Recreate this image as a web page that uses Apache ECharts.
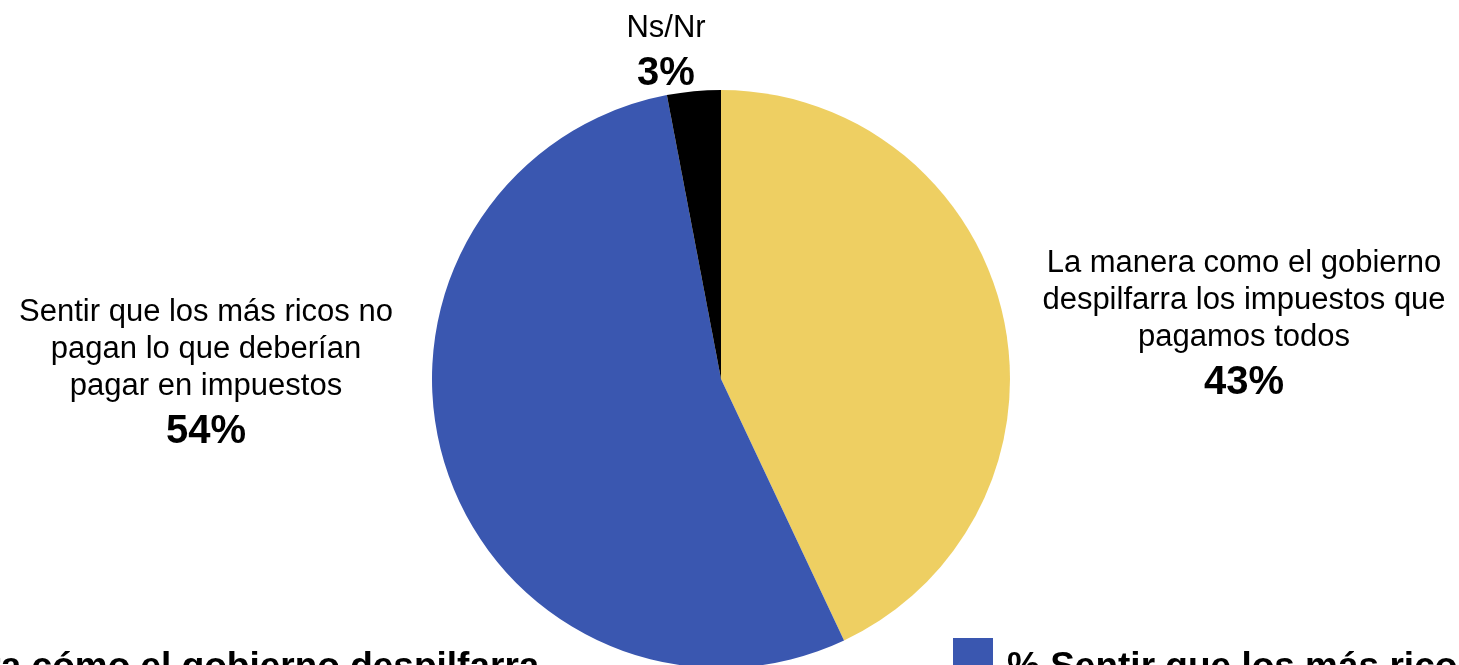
<!DOCTYPE html>
<html>
<head>
<meta charset="utf-8">
<script src="https://cdn.jsdelivr.net/npm/echarts@6/dist/echarts.min.js"></script>
<style>
  html, body { margin: 0; padding: 0; background: #ffffff; }
  #chart { width: 1459px; height: 665px; }
</style>
</head>
<body>
<div id="chart"></div>
<script>
// Survey answers: slice names (as shown next to the pie) and percentages
const categories = [
  'La manera como el gobierno\ndespilfarra los impuestos que\npagamos todos',
  'Sentir que los más ricos no\npagan lo que deberían\npagar en impuestos',
  'Ns/Nr'
];
const values = [43, 54, 3];
const sliceColors = ['#EECF62', '#3A57B0', '#000000'];

// Legend wording for the two main answers
const legendLabels = [
  '% La manera cómo el gobierno despilfarra\nlos impuestos que pagamos todos',
  '% Sentir que los más ricos no pagan lo que\ndeberían pagar en impuestos'
];

// Where each slice's caption block sits (top-centre anchor)
const labelAnchors = [[1244, 245], [206, 294], [666, 10]];

const FONT = '"Liberation Sans", Arial, Helvetica, sans-serif';

const chart = echarts.init(document.getElementById('chart'), null, { renderer: 'canvas' });

// Tall swatches so the first line of the two-line legend text sits
// level with the upper part of the swatch.
function legendFor(index, left) {
  return {
    show: true,
    left: left,
    top: 638,
    padding: 0,
    orient: 'horizontal',
    data: [categories[index]],
    icon: 'rect',
    itemWidth: 40,
    itemHeight: 104,
    selectedMode: false,
    formatter: function () { return legendLabels[index]; },
    textStyle: {
      fontFamily: FONT,
      fontSize: 37,
      fontWeight: 'bold',
      color: '#000000',
      lineHeight: 44,
      padding: [0, 0, 0, 9]
    }
  };
}

chart.setOption({
  animation: false,
  backgroundColor: '#ffffff',
  legend: [legendFor(0, -261), legendFor(1, 953)],
  series: [{
    type: 'pie',
    center: [721, 379],
    radius: 289,
    startAngle: 90,
    clockwise: true,
    avoidLabelOverlap: false,
    emphasis: { disabled: true },
    itemStyle: { borderWidth: 0 },
    label: {
      show: true,
      position: 'outside',
      formatter: function (p) { return '{n|' + p.name + '}\n{p|' + p.value + '%}'; },
      align: 'center',
      rich: {
        n: { fontFamily: FONT, fontSize: 31, lineHeight: 37, color: '#000000', align: 'center' },
        p: { fontFamily: FONT, fontSize: 40, fontWeight: 'bold', lineHeight: 54, color: '#000000', align: 'center' }
      }
    },
    labelLine: { show: false },
    labelLayout: function (params) {
      const a = labelAnchors[params.dataIndex];
      return { x: a[0], y: a[1], align: 'center', verticalAlign: 'top' };
    },
    data: categories.map(function (name, i) {
      return { name: name, value: values[i], itemStyle: { color: sliceColors[i] } };
    })
  }]
});
</script>
</body>
</html>
